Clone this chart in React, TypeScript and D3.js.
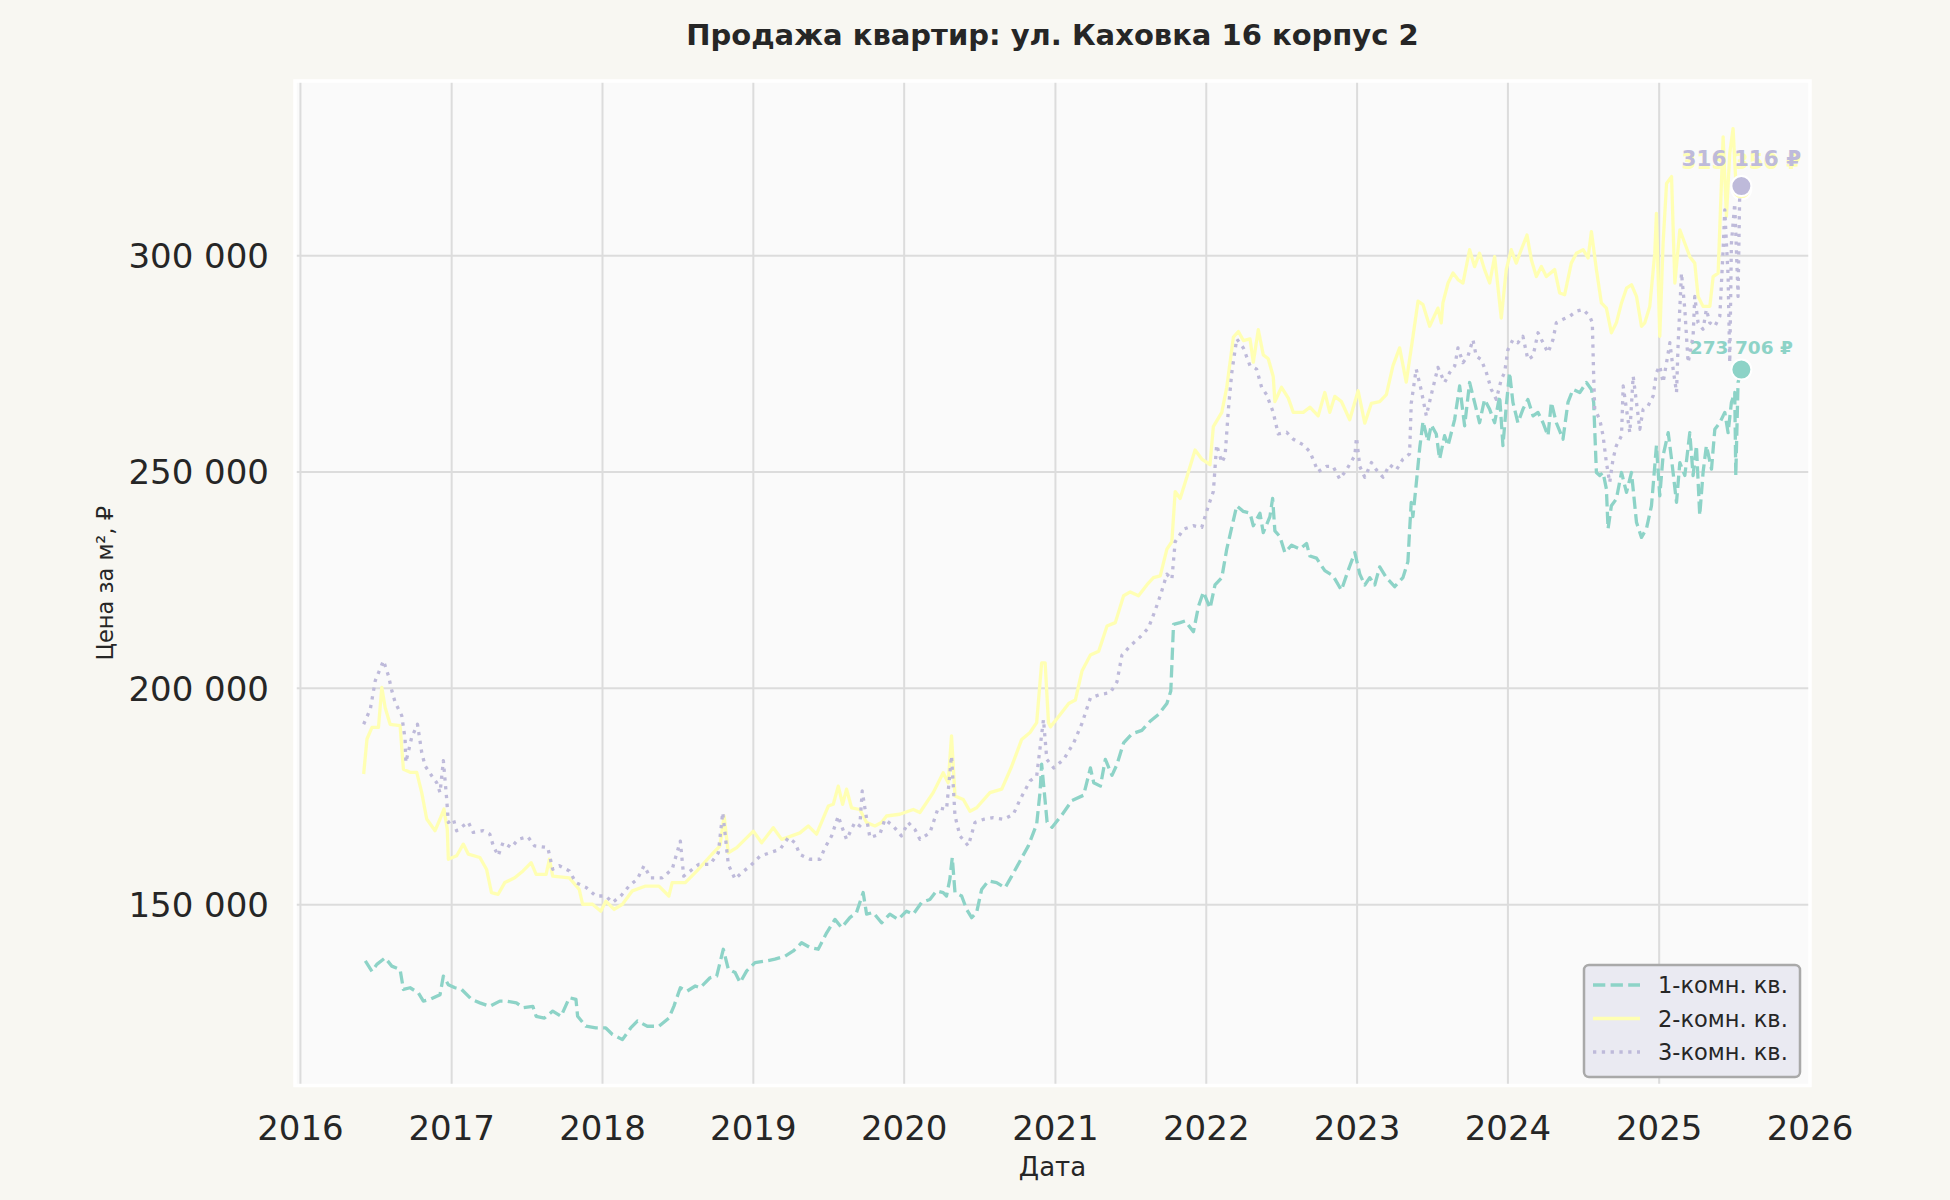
import React from 'react';
import * as d3 from 'd3';

// ---------- data ----------
const TITLE = 'Продажа квартир: ул. Каховка 16 корпус 2';
const X_LABEL = 'Дата';
const Y_LABEL = 'Цена за м², ₽';
const SERIES_NAMES = ['1-комн. кв.', '2-комн. кв.', '3-комн. кв.'];
const SERIES_COLORS = ['#8dd3c7', '#ffffb3', '#bebada'];
const Y_TICKS = [150000, 200000, 250000, 300000];
const X_DOMAIN_YEARS = [2015.964, 2026.0];
const Y_DOMAIN = [108200, 340400];

// [decimal year, price in thousand ₽ per m²]
const oneRoom: [number, number][] = [
  [2016.429,137.0],[2016.473,134.6],[2016.505,136.2],[2016.56,137.7],[2016.604,135.8],[2016.659,135.0],[2016.681,130.4],[2016.725,130.8],[2016.78,129.6],[2016.813,127.7],
  [2016.857,128.1],[2016.923,129.2],[2016.945,133.5],[2016.978,131.5],[2017.022,130.8],[2017.066,130.4],[2017.132,128.1],[2017.187,127.3],[2017.253,126.5],[2017.319,127.7],
  [2017.363,127.7],[2017.429,127.3],[2017.473,126.2],[2017.538,126.5],[2017.56,124.2],[2017.615,123.8],[2017.67,125.4],[2017.725,124.2],[2017.78,128.5],[2017.824,128.1],
  [2017.835,124.2],[2017.89,121.9],[2017.956,121.5],[2018.022,121.5],[2018.066,120.0],[2018.132,118.8],[2018.187,121.5],[2018.231,123.1],[2018.297,121.9],[2018.374,121.9],
  [2018.44,123.8],[2018.473,126.5],[2018.516,130.8],[2018.56,130.0],[2018.615,131.2],[2018.647,130.8],[2018.713,133.1],[2018.757,133.5],[2018.801,139.7],[2018.834,135.1],
  [2018.879,134.3],[2018.912,132.0],[2018.956,134.7],[2019.011,136.6],[2019.088,137.0],[2019.143,137.4],[2019.21,138.1],[2019.265,139.3],[2019.32,141.2],[2019.375,140.1],
  [2019.43,139.7],[2019.486,143.5],[2019.541,146.6],[2019.585,144.7],[2019.64,147.0],[2019.684,148.2],[2019.728,152.8],[2019.751,147.8],[2019.795,148.2],[2019.85,145.8],
  [2019.905,147.8],[2019.96,146.6],[2020.015,148.5],[2020.06,147.8],[2020.115,150.5],[2020.17,151.2],[2020.214,153.2],[2020.258,152.8],[2020.28,152.0],[2020.302,155.9],
  [2020.318,160.9],[2020.336,152.8],[2020.38,152.0],[2020.413,148.9],[2020.446,147.0],[2020.479,148.2],[2020.512,153.5],[2020.556,155.5],[2020.611,155.1],[2020.667,153.9],
  [2020.711,156.6],[2020.766,160.1],[2020.821,163.6],[2020.876,168.6],[2020.898,175.9],[2020.909,182.5],[2020.945,169.1],[2020.978,167.9],[2021.044,170.8],[2021.11,174.1],
  [2021.187,175.3],[2021.232,181.6],[2021.254,178.2],[2021.298,177.4],[2021.331,183.6],[2021.375,179.9],[2021.408,182.4],[2021.452,187.4],[2021.507,189.5],[2021.573,190.3],
  [2021.628,192.4],[2021.684,194.0],[2021.739,196.5],[2021.765,199.4],[2021.783,214.8],[2021.827,215.2],[2021.86,215.6],[2021.915,213.1],[2021.948,218.9],[2021.981,222.3],
  [2022.025,218.5],[2022.058,223.9],[2022.103,225.6],[2022.136,232.2],[2022.169,237.2],[2022.202,242.2],[2022.246,240.9],[2022.29,240.5],[2022.312,237.6],[2022.356,240.5],
  [2022.378,236.0],[2022.422,239.7],[2022.44,243.9],[2022.455,236.4],[2022.488,235.1],[2022.521,231.4],[2022.566,233.1],[2022.621,232.2],[2022.665,233.5],[2022.687,230.6],
  [2022.731,230.1],[2022.786,227.2],[2022.841,226.0],[2022.896,222.7],[2022.94,227.2],[2022.985,231.4],[2023.018,226.4],[2023.051,223.9],[2023.084,225.6],[2023.117,223.9],
  [2023.15,228.1],[2023.194,225.6],[2023.249,223.5],[2023.304,225.6],[2023.337,229.3],[2023.348,236.4],[2023.359,243.0],[2023.37,239.7],[2023.392,247.2],[2023.415,255.5],
  [2023.437,261.7],[2023.47,257.1],[2023.492,260.9],[2023.525,258.8],[2023.547,253.0],[2023.58,258.4],[2023.603,256.1],[2023.647,262.2],[2023.68,269.9],[2023.713,260.7],
  [2023.746,270.7],[2023.779,266.1],[2023.812,261.4],[2023.845,266.8],[2023.879,264.5],[2023.912,261.4],[2023.945,267.6],[2023.967,256.1],[2023.989,265.3],[2024.011,273.0],
  [2024.033,266.1],[2024.066,261.4],[2024.099,264.5],[2024.132,266.8],[2024.166,263.0],[2024.199,263.8],[2024.232,261.4],[2024.265,258.4],[2024.287,266.1],[2024.32,261.4],
  [2024.364,257.6],[2024.397,266.1],[2024.43,269.1],[2024.475,268.4],[2024.519,270.7],[2024.552,269.1],[2024.567,266.1],[2024.585,249.9],[2024.607,249.2],[2024.629,249.9],
  [2024.651,246.1],[2024.662,236.9],[2024.684,242.2],[2024.717,243.8],[2024.751,249.9],[2024.784,245.3],[2024.817,249.9],[2024.85,238.4],[2024.883,234.9],[2024.916,236.9],
  [2024.949,242.2],[2024.982,256.1],[2025.004,244.5],[2025.026,253.8],[2025.06,259.1],[2025.082,253.0],[2025.115,243.0],[2025.137,252.2],[2025.17,249.2],[2025.203,259.1],
  [2025.225,249.2],[2025.247,256.1],[2025.269,240.0],[2025.291,249.9],[2025.313,256.1],[2025.347,250.7],[2025.369,259.9],[2025.402,261.4],[2025.435,263.8],[2025.457,259.1],
  [2025.479,266.1],[2025.501,268.4],[2025.508,249.2],[2025.523,270.7],[2025.545,273.706],
];

const twoRoom: [number, number][] = [
  [2016.418,180.2],[2016.44,188.3],[2016.473,191.0],[2016.516,191.0],[2016.538,200.2],[2016.56,195.6],[2016.593,191.7],[2016.659,191.4],[2016.681,181.3],[2016.725,180.6],
  [2016.769,180.6],[2016.802,175.9],[2016.835,169.8],[2016.89,167.1],[2016.923,169.8],[2016.949,172.1],[2016.971,167.4],[2016.978,160.5],[2017.033,161.3],[2017.077,164.0],
  [2017.11,161.7],[2017.187,160.9],[2017.231,158.2],[2017.264,152.8],[2017.308,152.4],[2017.352,155.1],[2017.418,156.2],[2017.473,157.8],[2017.527,159.7],[2017.56,157.0],
  [2017.626,157.0],[2017.648,160.5],[2017.67,156.6],[2017.78,156.2],[2017.846,153.5],[2017.868,150.1],[2017.934,150.1],[2017.989,148.5],[2018.022,150.8],[2018.077,148.9],
  [2018.132,150.1],[2018.198,153.2],[2018.286,154.3],[2018.374,154.3],[2018.44,152.0],[2018.462,155.1],[2018.549,155.1],[2018.626,157.8],[2018.724,161.6],[2018.779,163.6],
  [2018.806,170.5],[2018.834,162.0],[2018.89,163.2],[2019.0,167.0],[2019.055,164.3],[2019.132,167.8],[2019.188,165.1],[2019.254,165.9],[2019.309,166.6],[2019.364,168.2],
  [2019.419,166.3],[2019.497,172.8],[2019.53,173.2],[2019.563,177.4],[2019.592,173.2],[2019.618,176.7],[2019.651,172.4],[2019.706,172.0],[2019.751,169.0],[2019.806,168.2],
  [2019.85,169.0],[2019.883,170.5],[2019.971,170.9],[2020.06,172.0],[2020.104,171.3],[2020.192,175.9],[2020.258,180.5],[2020.291,178.2],[2020.313,189.0],[2020.336,175.1],
  [2020.391,174.3],[2020.435,171.6],[2020.479,172.4],[2020.567,175.9],[2020.645,176.7],[2020.711,182.0],[2020.777,188.2],[2020.832,189.8],[2020.876,192.1],[2020.909,205.9],
  [2020.932,205.9],[2020.954,192.1],[2020.967,191.1],[2021.033,194.0],[2021.088,196.5],[2021.132,197.3],[2021.176,204.0],[2021.232,207.7],[2021.287,208.6],[2021.342,214.4],
  [2021.397,215.2],[2021.452,221.4],[2021.496,222.3],[2021.551,221.4],[2021.606,223.9],[2021.65,225.6],[2021.695,226.0],[2021.739,232.2],[2021.772,233.9],[2021.794,245.5],
  [2021.827,243.9],[2021.871,248.8],[2021.926,255.1],[2021.97,253.0],[2022.025,251.7],[2022.047,260.5],[2022.103,263.8],[2022.136,269.6],[2022.18,281.2],[2022.213,282.5],
  [2022.246,280.4],[2022.29,280.8],[2022.312,275.4],[2022.345,282.9],[2022.378,277.1],[2022.411,276.2],[2022.444,272.1],[2022.455,266.3],[2022.499,269.6],[2022.544,267.1],
  [2022.577,263.8],[2022.643,263.8],[2022.687,265.0],[2022.742,263.0],[2022.786,268.4],[2022.819,263.8],[2022.852,267.5],[2022.896,266.3],[2022.951,262.1],[2023.007,268.8],
  [2023.051,261.3],[2023.095,265.9],[2023.15,266.3],[2023.194,267.9],[2023.238,274.6],[2023.282,278.7],[2023.326,270.8],[2023.37,281.2],[2023.404,289.5],[2023.437,288.7],
  [2023.481,283.7],[2023.536,287.9],[2023.558,284.5],[2023.569,289.1],[2023.603,293.7],[2023.636,296.0],[2023.669,294.5],[2023.702,293.7],[2023.746,301.4],[2023.779,297.5],
  [2023.812,300.6],[2023.845,296.8],[2023.879,293.7],[2023.912,299.8],[2023.956,285.6],[2023.989,296.8],[2024.022,301.4],[2024.055,298.3],[2024.088,301.4],[2024.126,304.8],
  [2024.155,299.1],[2024.188,295.2],[2024.221,297.5],[2024.254,295.2],[2024.309,296.8],[2024.342,291.4],[2024.375,291.0],[2024.419,298.3],[2024.453,300.6],[2024.497,301.4],
  [2024.53,299.5],[2024.552,305.6],[2024.585,296.8],[2024.618,289.1],[2024.651,287.9],[2024.684,282.2],[2024.717,284.5],[2024.751,289.1],[2024.784,292.5],[2024.817,293.3],
  [2024.85,290.6],[2024.883,283.7],[2024.905,284.5],[2024.938,288.3],[2024.971,300.6],[2024.982,309.8],[2025.004,281.4],[2025.026,302.9],[2025.049,316.7],[2025.082,318.3],
  [2025.104,293.7],[2025.137,306.0],[2025.17,302.9],[2025.203,299.8],[2025.236,298.3],[2025.258,290.6],[2025.291,288.3],[2025.336,288.3],[2025.358,295.2],[2025.391,296.0],
  [2025.424,327.5],[2025.446,309.1],[2025.468,323.7],[2025.49,329.4],[2025.512,314.4],[2025.545,315.35],
];

const threeRoom: [number, number][] = [
  [2016.418,191.7],[2016.462,195.2],[2016.495,201.8],[2016.549,206.4],[2016.582,202.9],[2016.604,199.5],[2016.626,196.8],[2016.67,193.7],[2016.692,188.3],[2016.697,182.9],
  [2016.736,188.7],[2016.774,191.7],[2016.802,185.2],[2016.824,182.1],[2016.868,179.8],[2016.901,178.2],[2016.923,175.9],[2016.945,183.3],[2016.967,174.4],[2016.978,169.0],
  [2017.011,169.8],[2017.033,167.1],[2017.11,169.1],[2017.143,166.7],[2017.209,167.1],[2017.253,166.3],[2017.275,163.7],[2017.308,161.3],[2017.341,164.4],[2017.396,163.2],
  [2017.44,165.1],[2017.505,165.7],[2017.549,163.6],[2017.637,163.2],[2017.67,158.2],[2017.714,159.0],[2017.78,157.8],[2017.824,155.1],[2017.89,154.0],[2017.956,152.0],
  [2018.022,152.0],[2018.066,150.5],[2018.121,152.0],[2018.176,154.3],[2018.231,155.9],[2018.275,159.0],[2018.319,156.2],[2018.396,156.2],[2018.462,158.2],[2018.516,164.7],
  [2018.538,156.6],[2018.637,159.3],[2018.713,159.3],[2018.768,162.0],[2018.797,171.3],[2018.812,166.6],[2018.834,159.3],[2018.879,155.9],[2018.923,157.4],[2018.978,158.9],
  [2019.044,161.2],[2019.11,162.0],[2019.177,162.8],[2019.232,165.5],[2019.276,164.3],[2019.309,161.6],[2019.375,160.5],[2019.442,160.5],[2019.475,163.2],[2019.519,165.9],
  [2019.563,170.5],[2019.585,168.2],[2019.618,165.1],[2019.673,169.0],[2019.706,168.2],[2019.722,176.3],[2019.744,171.3],[2019.773,165.5],[2019.839,166.3],[2019.872,169.7],
  [2019.927,168.2],[2019.982,165.9],[2020.026,169.0],[2020.071,167.4],[2020.104,165.1],[2020.17,166.6],[2020.225,172.4],[2020.28,172.0],[2020.313,184.4],[2020.336,170.5],
  [2020.369,165.9],[2020.424,163.6],[2020.468,169.0],[2020.523,169.7],[2020.589,170.1],[2020.656,169.7],[2020.722,170.9],[2020.766,174.3],[2020.832,178.6],[2020.876,179.7],
  [2020.921,192.8],[2020.943,183.6],[2020.989,181.6],[2021.055,183.6],[2021.121,187.4],[2021.176,191.9],[2021.232,197.8],[2021.298,198.6],[2021.364,199.0],[2021.408,201.5],
  [2021.441,207.7],[2021.496,209.8],[2021.562,211.9],[2021.617,214.0],[2021.662,218.1],[2021.695,221.4],[2021.739,226.4],[2021.772,225.2],[2021.794,233.9],[2021.849,236.8],
  [2021.915,237.6],[2021.97,237.2],[2022.014,242.2],[2022.047,245.5],[2022.069,256.3],[2022.103,252.2],[2022.125,253.8],[2022.147,264.6],[2022.169,272.9],[2022.202,280.8],
  [2022.246,278.7],[2022.29,274.6],[2022.334,273.8],[2022.367,269.6],[2022.4,267.9],[2022.444,263.8],[2022.477,258.8],[2022.533,259.2],[2022.577,257.6],[2022.643,256.3],
  [2022.687,254.7],[2022.742,250.1],[2022.797,251.3],[2022.841,251.3],[2022.885,248.4],[2022.929,250.5],[2022.985,253.8],[2022.996,258.0],[2023.018,251.3],[2023.051,248.8],
  [2023.095,252.2],[2023.128,250.5],[2023.172,248.8],[2023.216,251.7],[2023.26,250.5],[2023.304,253.0],[2023.348,254.2],[2023.359,265.9],[2023.392,273.8],[2023.426,268.8],
  [2023.459,263.0],[2023.492,267.9],[2023.536,274.2],[2023.58,270.7],[2023.614,273.0],[2023.647,274.5],[2023.669,278.7],[2023.702,275.3],[2023.735,276.8],[2023.768,280.6],
  [2023.79,276.8],[2023.823,276.0],[2023.857,273.0],[2023.89,269.1],[2023.923,266.8],[2023.956,271.4],[2023.978,273.0],[2024.0,278.3],[2024.033,280.6],[2024.066,279.9],
  [2024.099,281.4],[2024.132,276.0],[2024.166,276.8],[2024.199,282.2],[2024.232,279.9],[2024.265,277.6],[2024.298,280.6],[2024.32,284.5],[2024.364,285.3],[2024.408,286.0],
  [2024.453,287.2],[2024.497,287.6],[2024.541,286.0],[2024.558,284.5],[2024.567,272.2],[2024.574,264.5],[2024.607,262.2],[2024.629,258.4],[2024.651,252.2],[2024.673,247.6],
  [2024.695,253.0],[2024.717,256.1],[2024.751,258.4],[2024.762,269.9],[2024.784,264.5],[2024.806,259.1],[2024.828,272.2],[2024.85,266.1],[2024.872,259.9],[2024.894,264.5],
  [2024.927,265.3],[2024.96,267.6],[2024.982,273.0],[2025.004,274.5],[2025.026,270.7],[2025.049,275.3],[2025.071,279.9],[2025.093,273.7],[2025.115,268.4],[2025.126,279.9],
  [2025.148,296.0],[2025.17,287.6],[2025.192,275.3],[2025.225,281.4],[2025.236,290.6],[2025.258,284.5],[2025.291,283.0],[2025.313,287.6],[2025.336,284.5],[2025.369,283.7],
  [2025.402,286.0],[2025.424,301.4],[2025.435,310.6],[2025.457,295.2],[2025.468,275.3],[2025.479,302.9],[2025.501,312.1],[2025.523,290.6],[2025.534,314.4],[2025.545,316.116],
];

const SERIES = [oneRoom, twoRoom, threeRoom];

// ---------- layout / style ----------
const W = 1950;
const H = 1200;
const PLOT = { left: 295, right: 1810, top: 81, bottom: 1085.5 };
const FONT = '"DejaVu Sans", Verdana, sans-serif';
const TEXT_COLOR = '#262626';
const DASHES = ['12.3 5.3', undefined, '3.3 5.5'];
const LABEL_SIZES = [18.5, 21.5, 21.5];
const LABEL_OFFSETS = [16, 20, 20];

const toDate = (y: number) => {
  const yr = Math.floor(y);
  const s = Date.UTC(yr, 0, 1);
  const e = Date.UTC(yr + 1, 0, 1);
  return new Date(s + (y - yr) * (e - s));
};

const ru = d3.formatLocale({ decimal: ',', thousands: ' ', grouping: [3], currency: ['', ' ₽'] });
const fmtInt = ru.format(',d');

export default function App() {
  const x = d3.scaleUtc()
    .domain([toDate(X_DOMAIN_YEARS[0]), toDate(X_DOMAIN_YEARS[1])])
    .range([PLOT.left, PLOT.right]);
  const y = d3.scaleLinear().domain(Y_DOMAIN).range([PLOT.bottom, PLOT.top]);
  const line = d3.line<[number, number]>()
    .x((d) => x(toDate(d[0])))
    .y((d) => y(d[1] * 1000));

  const xTicks = x.ticks(d3.utcYear.every(1) as d3.TimeInterval);
  const fmtYear = d3.utcFormat('%Y');

  const cx = (PLOT.left + PLOT.right) / 2;
  const cy = (PLOT.top + PLOT.bottom) / 2;

  return (
    <svg width={W} height={H} style={{ position: 'absolute', left: 0, top: 0, display: 'block' }}
      xmlns="http://www.w3.org/2000/svg">
      <rect x={0} y={0} width={W} height={H} fill="#f8f7f2" />
      {/* axes background */}
      <rect x={PLOT.left} y={PLOT.top} width={PLOT.right - PLOT.left} height={PLOT.bottom - PLOT.top}
        fill="#fafafa" />
      {/* grid */}
      <g stroke="#dcdcdc" strokeWidth={2}>
        {xTicks.map((t) => (
          <line key={'gx' + t.getTime()} x1={x(t)} x2={x(t)} y1={PLOT.top} y2={PLOT.bottom} />
        ))}
        {Y_TICKS.map((v) => (
          <line key={'gy' + v} x1={PLOT.left} x2={PLOT.right} y1={y(v)} y2={y(v)} />
        ))}
      </g>
      {/* series + annotations */}
      {SERIES.map((s, i) => {
        const last = s[s.length - 1];
        const px = x(toDate(last[0]));
        const py = y(last[1] * 1000);
        const value = Math.round(last[1] * 1000);
        return (
          <g key={'s' + i}>
            <path d={line(s) || ''} fill="none" stroke={SERIES_COLORS[i]} strokeWidth={3.3}
              strokeDasharray={DASHES[i]} strokeLinejoin="round" strokeLinecap="butt" />
            <circle cx={px} cy={py} r={10} fill={SERIES_COLORS[i]} stroke="#ffffff" strokeWidth={2} />
            <text x={px} y={py - LABEL_OFFSETS[i]} textAnchor="middle" fontFamily={FONT}
              fontWeight="bold" fontSize={LABEL_SIZES[i]} fill={SERIES_COLORS[i]}>
              {fmtInt(value) + ' ₽'}
            </text>
          </g>
        );
      })}
      {/* spines */}
      <rect x={PLOT.left} y={PLOT.top} width={PLOT.right - PLOT.left} height={PLOT.bottom - PLOT.top}
        fill="none" stroke="#ffffff" strokeWidth={3.5} />
      {/* x tick labels */}
      <g fontFamily={FONT} fontSize={34} fill={TEXT_COLOR} textAnchor="middle">
        {xTicks.map((t) => (
          <text key={'tx' + t.getTime()} x={x(t)} y={1140}>{fmtYear(t)}</text>
        ))}
      </g>
      {/* y tick labels */}
      <g fontFamily={FONT} fontSize={34} fill={TEXT_COLOR} textAnchor="end">
        {Y_TICKS.map((v) => (
          <text key={'ty' + v} x={269} y={y(v) + 12.4}>{fmtInt(v)}</text>
        ))}
      </g>
      {/* axis labels */}
      <text x={cx} y={1176} textAnchor="middle" fontFamily={FONT} fontSize={26} fill={TEXT_COLOR}>
        {X_LABEL}
      </text>
      <text transform={`translate(113, ${cy}) rotate(-90)`} textAnchor="middle" fontFamily={FONT}
        fontSize={22.5} fill={TEXT_COLOR}>
        {Y_LABEL}
      </text>
      {/* title */}
      <text x={cx} y={45} textAnchor="middle" fontFamily={FONT} fontWeight="bold" fontSize={29}
        fill={TEXT_COLOR}>
        {TITLE}
      </text>
      {/* legend */}
      <g>
        <rect x={1584} y={965} width={216} height={112} rx={5} fill="#eaeaf2" stroke="#a9a9a9"
          strokeWidth={2.5} />
        {SERIES_NAMES.map((name, i) => {
          const ly = 985 + i * 33.5;
          return (
            <g key={'lg' + i}>
              <line x1={1593} x2={1640} y1={ly} y2={ly} stroke={SERIES_COLORS[i]} strokeWidth={3.3}
                strokeDasharray={DASHES[i]} />
              <text x={1658} y={ly + 8} fontFamily={FONT} fontSize={22.5} fill={TEXT_COLOR}>{name}</text>
            </g>
          );
        })}
      </g>
    </svg>
  );
}
